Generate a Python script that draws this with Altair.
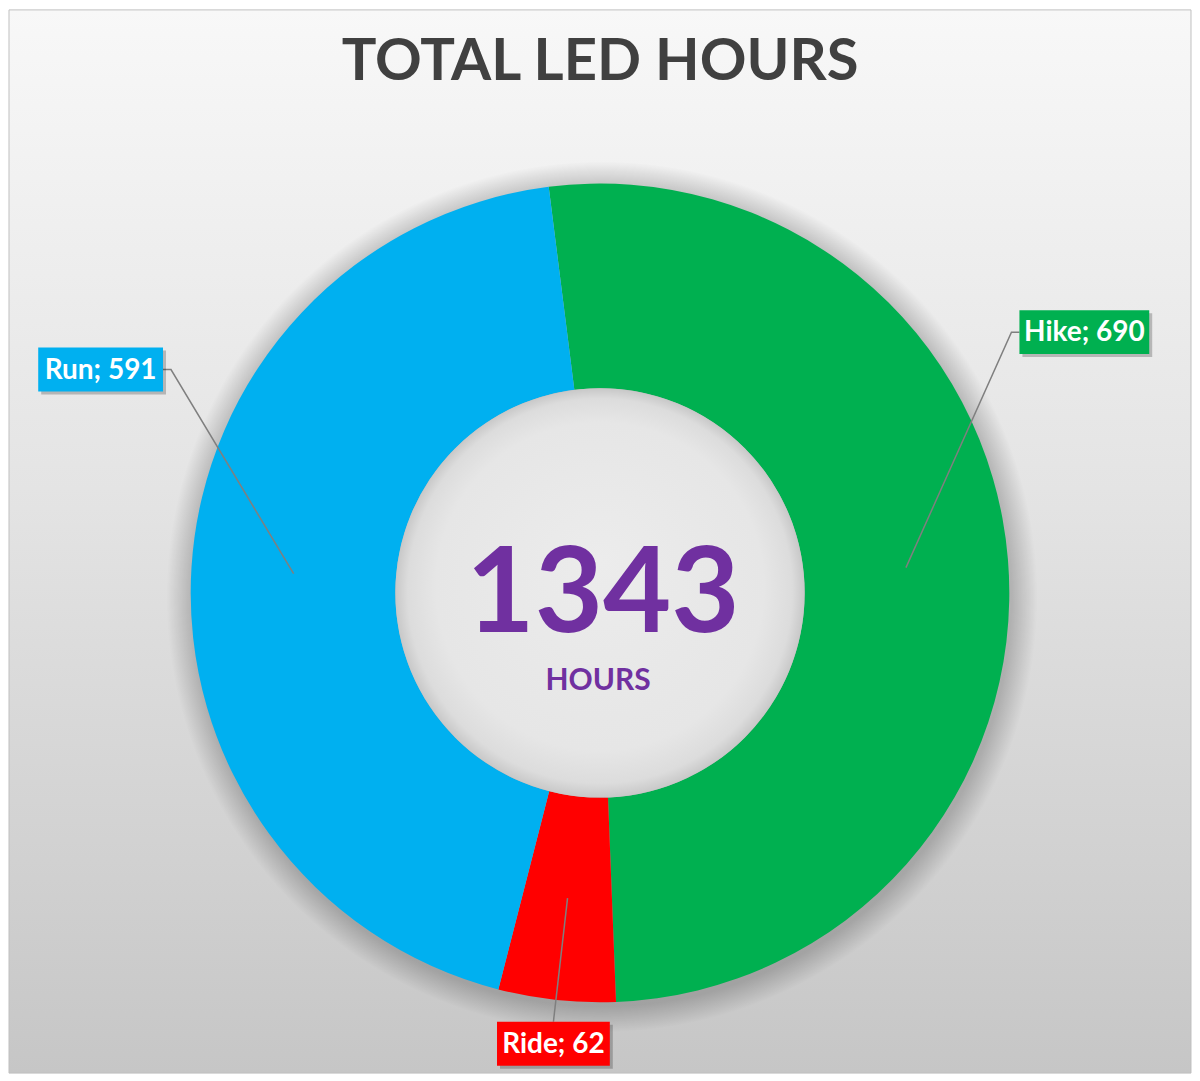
import math
import altair as alt
import pandas as pd

# ---- data ----
categories = ["Hike", "Ride", "Run"]
hours = [690, 62, 591]
colors = ["#00B050", "#FF0000", "#00B0F0"]
title_text = "TOTAL LED HOURS"
unit_text = "HOURS"

# ---- layout (chart pixel space) ----
W, H = 1184, 1065
CX, CY = 592, 584
R_OUT, R_IN = 410, 205
START = math.radians(-7.2)
FONT = "Lato"

# label callouts: (angle deg clockwise from top, distance from centre, box width)
label_layout = {
    "Hike": (61.7, 551, 130),
    "Ride": (185.9, 454, 113),
    "Run": (294.1, 548, 125),
}
BOX_H = 44

total = sum(hours)
df = pd.DataFrame({"cat": categories, "hours": hours, "idx": list(range(len(categories)))})

xs = alt.Scale(domain=[0, W], nice=False, zero=False)
ys = alt.Scale(domain=[0, H], nice=False, zero=False, reverse=True)

# leader lines and boxes computed from data mid-angles
line_rows, box_rows = [], []
cum = 0
for c, h in zip(categories, hours):
    mid = START + 2 * math.pi * (cum + h / 2) / total
    cum += h
    r_mid = (R_OUT + R_IN) / 2
    sx = CX + r_mid * math.sin(mid)
    sy = CY - r_mid * math.cos(mid)
    ang, dist, bw = label_layout[c]
    a = math.radians(ang)
    bx = CX + dist * math.sin(a)
    by = CY - dist * math.cos(a)
    box_rows.append({"cat": c, "label": f"{c}; {h}", "x0": bx - bw / 2, "x1": bx + bw / 2,
                     "y0": by - BOX_H / 2, "y1": by + BOX_H / 2, "bx": bx, "by": by})
    if abs(bx - CX) > bw:  # side label
        if bx > CX:
            ex, elx = bx - bw / 2, bx - bw / 2 - 8
        else:
            ex, elx = bx + bw / 2, bx + bw / 2 + 8
        pts = [(sx, sy), (elx, by), (ex, by)]
    else:
        pts = [(sx, sy), (bx, by - BOX_H / 2)]
    for i, (px, py) in enumerate(pts):
        line_rows.append({"cat": c, "step": i, "px": px, "py": py})

lines_df = pd.DataFrame(line_rows)
boxes_df = pd.DataFrame(box_rows)
one = pd.DataFrame({"a": [0]})

bg_grad = {
    "gradient": "linear", "x1": 0, "y1": 0, "x2": 0, "y2": 1,
    "stops": [{"offset": 0, "color": "#f8f8f8"}, {"offset": 0.45, "color": "#e4e4e4"},
              {"offset": 1, "color": "#c6c6c6"}],
}
background = alt.Chart(one).mark_rect(fill=bg_grad, stroke="#c0c0c0", strokeWidth=1).encode(
    x=alt.value(0), x2=alt.value(W), y=alt.value(0), y2=alt.value(H)
)

shadow_r = R_OUT + 26
shadow_grad = {
    "gradient": "radial", "x1": 0.5, "y1": 0.5, "r1": 0, "x2": 0.5, "y2": 0.5, "r2": 0.5,
    "stops": [{"offset": 0, "color": "rgba(0,0,0,0.25)"},
              {"offset": R_OUT / shadow_r, "color": "rgba(0,0,0,0.2)"},
              {"offset": 1, "color": "rgba(0,0,0,0)"}],
}
shadow = alt.Chart(one).mark_arc(outerRadius=shadow_r, innerRadius=0, theta=0, theta2=2 * math.pi,
                                 fill=shadow_grad).encode(x=alt.value(CX + 2), y=alt.value(CY + 4))

ring = alt.Chart(df).mark_arc(innerRadius=R_IN, outerRadius=R_OUT).encode(
    theta=alt.Theta("hours:Q", stack=True, scale=alt.Scale(range=[START, START + 2 * math.pi])),
    color=alt.Color("cat:N", scale=alt.Scale(domain=categories, range=colors), legend=None),
    order=alt.Order("idx:Q"),
    x=alt.value(CX), y=alt.value(CY),
)

hole_grad = {
    "gradient": "radial", "x1": 0.5, "y1": 0.42, "r1": 0, "x2": 0.5, "y2": 0.5, "r2": 0.5,
    "stops": [{"offset": 0, "color": "#ececec"}, {"offset": 0.8, "color": "#e6e6e6"},
              {"offset": 0.94, "color": "#dcdcdc"}, {"offset": 1, "color": "#c8c8c8"}],
}
hole = alt.Chart(one).mark_arc(outerRadius=R_IN, innerRadius=0, theta=0, theta2=2 * math.pi,
                               fill=hole_grad).encode(x=alt.value(CX), y=alt.value(CY))

lines = alt.Chart(lines_df).mark_line(color="#7f7f7f", strokeWidth=1.5).encode(
    x=alt.X("px:Q", scale=xs, axis=None),
    y=alt.Y("py:Q", scale=ys, axis=None),
    detail="cat:N", order="step:Q",
)

box_shadow = alt.Chart(boxes_df).transform_calculate(
    sx0="datum.x0 + 3", sx1="datum.x1 + 3", sy0="datum.y0 + 3", sy1="datum.y1 + 3"
).mark_rect(fill="black", opacity=0.22).encode(
    x=alt.X("sx0:Q", scale=xs, axis=None), x2="sx1:Q",
    y=alt.Y("sy0:Q", scale=ys, axis=None), y2="sy1:Q",
)

boxes = alt.Chart(boxes_df).mark_rect().encode(
    x=alt.X("x0:Q", scale=xs, axis=None), x2="x1:Q",
    y=alt.Y("y0:Q", scale=ys, axis=None), y2="y1:Q",
    color=alt.Color("cat:N", scale=alt.Scale(domain=categories, range=colors), legend=None),
)

box_text = alt.Chart(boxes_df).mark_text(
    font=FONT, fontWeight="bold", fontSize=28, color="white", align="center", baseline="middle", dy=1
).encode(
    x=alt.X("bx:Q", scale=xs, axis=None), y=alt.Y("by:Q", scale=ys, axis=None), text="label:N"
)

title = alt.Chart(one).mark_text(
    text=title_text, font=FONT, fontWeight="bold", fontSize=58, color="#404040",
    align="center", baseline="alphabetic"
).encode(x=alt.value(CX), y=alt.value(70))

big = alt.Chart(one).mark_text(
    text=str(total), font=FONT, fontWeight="bold", fontSize=118, color="#7030A0",
    align="center", baseline="alphabetic"
).encode(x=alt.value(CX + 3), y=alt.value(623))

unit = alt.Chart(one).mark_text(
    text=unit_text, font=FONT, fontWeight="bold", fontSize=30, color="#7030A0",
    align="center", baseline="alphabetic"
).encode(x=alt.value(CX - 2), y=alt.value(681))

chart = alt.layer(
    background, shadow, ring, hole, lines, box_shadow, boxes, box_text, title, big, unit
).properties(width=W, height=H, padding=0).configure_view(stroke=None)

chart.save("out.html", embed_options={"renderer": "svg", "actions": False})
